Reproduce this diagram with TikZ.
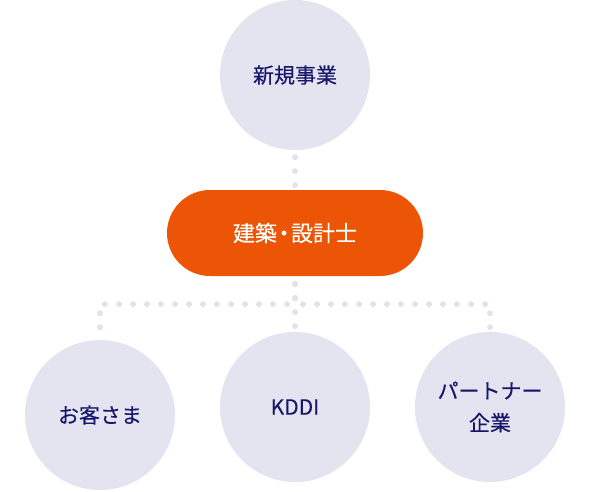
\documentclass[tikz,border=0pt]{standalone}
\usepackage{fontspec}
\setmainfont[FakeBold=0.3]{Noto Sans CJK JP}
\usetikzlibrary{backgrounds}
\definecolor{lav}{HTML}{E4E4F1}
\definecolor{dotc}{HTML}{E2E2EF}
\definecolor{orng}{HTML}{EB5505}
\definecolor{navy}{HTML}{17166B}
\tikzset{
  bubble/.style={circle, fill=lav, minimum size=150pt, inner sep=0pt, text=navy, align=center,
    font=\fontsize{21}{32}\selectfont},
  pillbox/.style={rectangle, rounded corners=43pt, fill=orng, minimum width=256pt, minimum height=86pt,
    inner sep=0pt, text=white, font=\fontsize{22}{26}\selectfont},
  dotline/.style={draw=dotc, line width=6pt, line cap=round, dash pattern=on 0pt off 14pt, dash phase=6pt},
}
\begin{document}
\begin{tikzpicture}[x=1pt, y={(0pt,-1pt)}]
\useasboundingbox (0,0) rectangle (590,491);
\node[bubble] (top) at (295,75) {新規事業};
\node[pillbox] (pill) at (295,233) {建築\kern-0.18em・\kern-0.18em設計士};
\node[bubble] (left) at (100,415) {お客さま};
\node[bubble] (mid) at (295,407) {KDDI};
\node[bubble] (right) at (490,407) {パートナー\\企業};
\begin{scope}[on background layer]
  \draw[dotline, dash phase=7pt] (top.south) -- (pill.north);
  \draw[dotline] (pill.south) -- (mid.north);
  \draw[dotline] (pill.south) -- ++(0,28) -| (left.north);
  \draw[dotline] (pill.south) -- ++(0,28) -| (right.north);
\end{scope}
\end{tikzpicture}
\end{document}
